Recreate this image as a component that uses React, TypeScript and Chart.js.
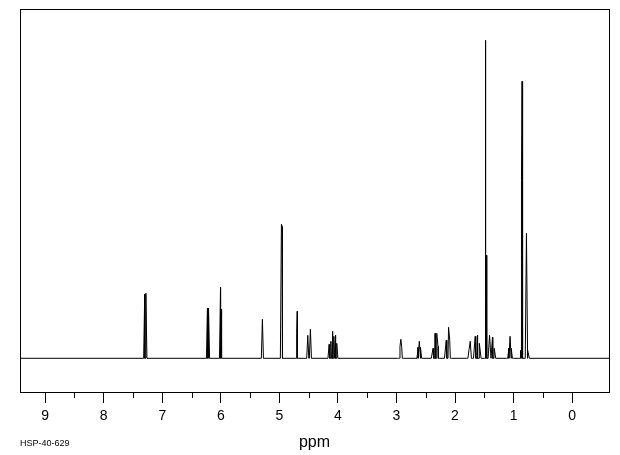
import React, { useEffect, useRef } from "react";
import { Chart, registerables } from "chart.js";

Chart.register(...registerables);

// Chemical shift axis (ppm)
const axisMaxPpm = 9.43;
const axisMinPpm = -0.63;
const majorTicks = [9, 8, 7, 6, 5, 4, 3, 2, 1, 0];
const minorTicks = [8.5, 7.5, 6.5, 5.5, 4.5, 3.5, 2.5, 1.5, 0.5];

// Peak list: chemical shift (ppm), intensity (arb. units), half width at base (ppm)
const peakShifts = [
  7.3, 7.28,
  6.228, 6.21, 6.005, 5.99,
  5.29, 4.965, 4.955, 4.705, 4.695, 4.515, 4.47,
  4.15, 4.12, 4.09, 4.07, 4.04, 4.02,
  2.94, 2.925, 2.91,
  2.63, 2.61, 2.59,
  2.375, 2.34, 2.31, 2.29,
  2.15, 2.11, 2.09,
  1.76, 1.74, 1.655, 1.615, 1.585,
  1.48, 1.47, 1.455, 1.41, 1.36, 1.33,
  1.08, 1.06, 1.04,
  0.88, 0.865, 0.855, 0.78, 0.76,
];
const peakHeights = [
  64, 65,
  50, 50, 71, 49,
  39, 134, 132, 25, 47, 23, 29,
  14, 17, 27, 22, 23, 15,
  12, 19, 11,
  11, 17, 11,
  10, 25, 25, 12,
  18, 31, 18,
  9, 17, 22, 23, 15,
  318, 103, 30, 23, 21, 10,
  10, 22, 10,
  8, 178, 277, 125, 8,
];
const peakHalfWidths = [
  0.018, 0.018,
  0.018, 0.018, 0.018, 0.014,
  0.018, 0.018, 0.018, 0.014, 0.018, 0.018, 0.018,
  0.02, 0.02, 0.02, 0.02, 0.02, 0.02,
  0.04, 0.04, 0.04,
  0.04, 0.04, 0.04,
  0.03, 0.025, 0.025, 0.03,
  0.03, 0.03, 0.03,
  0.04, 0.04, 0.03, 0.03, 0.03,
  0.016, 0.016, 0.02, 0.025, 0.025, 0.025,
  0.04, 0.04, 0.04,
  0.03, 0.016, 0.016, 0.02, 0.03,
];

const sampleLabel = "HSP-40-629";
const axisTitle = "ppm";

function buildSpectrum() {
  const pts: { x: number; y: number }[] = [];
  pts.push({ x: axisMaxPpm, y: 0 });
  peakShifts.forEach((p, i) => {
    const w = peakHalfWidths[i];
    pts.push({ x: p + w, y: 0 });
    pts.push({ x: p, y: peakHeights[i] });
    pts.push({ x: p - w, y: 0 });
  });
  pts.push({ x: axisMinPpm, y: 0 });
  pts.sort((a, b) => b.x - a.x);
  return pts;
}

const framePlugin = {
  id: "frame",
  afterDraw(chart: any) {
    const { ctx, chartArea } = chart;
    const xs = chart.scales.x;
    ctx.save();
    ctx.strokeStyle = "#000";
    ctx.lineWidth = 1;
    ctx.strokeRect(
      Math.round(chartArea.left) + 0.5,
      Math.round(chartArea.top) + 0.5,
      Math.round(chartArea.right - chartArea.left),
      Math.round(chartArea.bottom - chartArea.top)
    );
    // minor ticks
    ctx.beginPath();
    minorTicks.forEach((v) => {
      const px = Math.round(xs.getPixelForValue(v)) + 0.5;
      ctx.moveTo(px, Math.round(chartArea.bottom));
      ctx.lineTo(px, Math.round(chartArea.bottom) + 6);
    });
    ctx.stroke();
    ctx.fillStyle = "#000";
    ctx.font = '9px "Liberation Sans"';
    ctx.textBaseline = "middle";
    ctx.textAlign = "left";
    ctx.fillText(sampleLabel, 20, 444);
    ctx.restore();
  },
};

export default function App() {
  const ref = useRef<HTMLCanvasElement>(null);
  useEffect(() => {
    if (!ref.current) return;
    const chart = new Chart(ref.current, {
      type: "line",
      data: {
        datasets: [
          {
            data: buildSpectrum(),
            borderColor: "#000",
            borderWidth: 1,
            pointRadius: 0,
            tension: 0,
            fill: false,
          },
        ],
      },
      options: {
        animation: false,
        responsive: false,
        devicePixelRatio: 1,
        parsing: false,
        layout: { padding: { left: 20, right: 11, top: 9, bottom: 0 } },
        plugins: { legend: { display: false }, tooltip: { enabled: false } },
        scales: {
          x: {
            type: "linear",
            reverse: true,
            min: axisMinPpm,
            max: axisMaxPpm,
            afterBuildTicks: (scale: any) => {
              scale.ticks = majorTicks.map((v) => ({ value: v }));
            },
            afterFit: (scale: any) => {
              scale.height = 63;
            },
            grid: {
              drawOnChartArea: false,
              tickLength: 11,
              color: "#000",
              tickColor: "#000",
            },
            border: { display: true, color: "#000" },
            ticks: {
              autoSkip: false,
              maxRotation: 0,
              padding: 5,
              color: "#000",
              font: { family: "Liberation Sans", size: 14 },
              callback: (v: any) => String(v),
            },
            title: {
              display: true,
              text: axisTitle,
              color: "#000",
              font: { family: "Liberation Sans", size: 16 },
              padding: { top: 0, bottom: 3 },
            },
          },
          y: {
            display: false,
            min: -33.7,
            max: 349.3,
          },
        },
      },
      plugins: [framePlugin],
    });
    return () => chart.destroy();
  }, []);
  return (
    <div style={{ position: "absolute", left: 0, top: 0, width: 620, height: 455, background: "#fff" }}>
      <canvas ref={ref} width={620} height={455} style={{ display: "block" }} />
    </div>
  );
}
